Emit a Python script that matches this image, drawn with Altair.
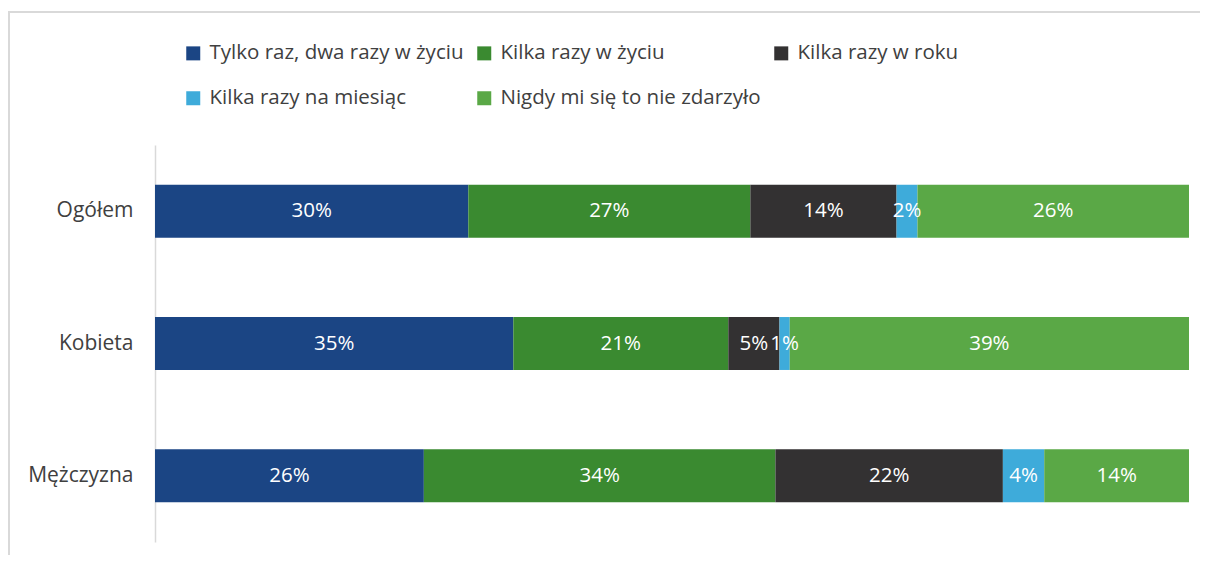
import altair as alt
import pandas as pd

groups = ["Ogółem", "Kobieta", "Mężczyzna"]
series = [
    "Tylko raz, dwa razy w życiu",
    "Kilka razy w życiu",
    "Kilka razy w roku",
    "Kilka razy na miesiąc",
    "Nigdy mi się to nie zdarzyło",
]
colors = ["#1B4584", "#3A8A30", "#333132", "#3EABDA", "#5AA846"]
values = {
    "Ogółem": [30, 27, 14, 2, 26],
    "Kobieta": [35, 21, 5, 1, 39],
    "Mężczyzna": [26, 34, 22, 4, 14],
}

rows = []
for g in groups:
    for i, s in enumerate(series):
        v = values[g][i]
        rows.append({"group": g, "series": s, "order": i, "value": v, "label": f"{v}%"})
df = pd.DataFrame(rows)

FONT = "Open Sans"
FS = 20.5

base = alt.Chart(df).transform_stack(
    stack="value",
    groupby=["group"],
    as_=["v0", "v1"],
    sort=[alt.SortField("order", order="ascending")],
    offset="normalize",
).transform_calculate(mid="(datum.v0 + datum.v1) / 2")

y_enc = alt.Y(
    "group:N",
    sort=groups,
    title=None,
    scale=alt.Scale(paddingInner=0.6, paddingOuter=0.3),
    axis=alt.Axis(
        ticks=False,
        labelFont=FONT,
        labelFontSize=21,
        labelColor="#404040",
        labelPadding=22,
        domainColor="#D9D9D9",
        domainWidth=1.5,
    ),
)

bars = base.mark_bar().encode(
    x=alt.X("v0:Q", scale=alt.Scale(domain=[0, 1]), axis=None),
    x2="v1:Q",
    y=y_enc,
    color=alt.Color(
        "series:N",
        scale=alt.Scale(domain=series, range=colors),
        sort=series,
        legend=alt.Legend(
            title=None,
            orient="none",
            direction="horizontal",
            legendX=28,
            legendY=-102,
            columns=3,
            symbolType="square",
            symbolSize=196,
            symbolStrokeWidth=0,
            labelFont=FONT,
            labelFontSize=FS,
            labelColor="#404040",
            labelOffset=6,
            rowPadding=24,
            columnPadding=10,
            labelLimit=400,
        ),
    ),
)

texts = base.mark_text(color="white", font=FONT, fontSize=FS, baseline="middle").encode(
    x=alt.X("mid:Q", scale=alt.Scale(domain=[0, 1])),
    y=alt.Y("group:N", sort=groups),
    text="label:N",
)

frame_top = alt.Chart(df).mark_rule(color="#D9D9D9", strokeWidth=2).encode(
    x=alt.value(-147), x2=alt.value(1060), y=alt.value(-133)
)
frame_left = alt.Chart(df).mark_rule(color="#D9D9D9", strokeWidth=2).encode(
    x=alt.value(-146), y=alt.value(-133), y2=alt.value(420)
)

chart = (
    alt.layer(frame_top, frame_left, bars, texts)
    .properties(
        width=1034,
        height=397,
        autosize=alt.AutoSizeParams(type="none"),
        padding={"left": 147, "top": 137, "right": 11, "bottom": 13},
    )
    .configure_view(stroke=None)
)

chart.save("out.html", embed_options={"renderer": "svg", "actions": False})
